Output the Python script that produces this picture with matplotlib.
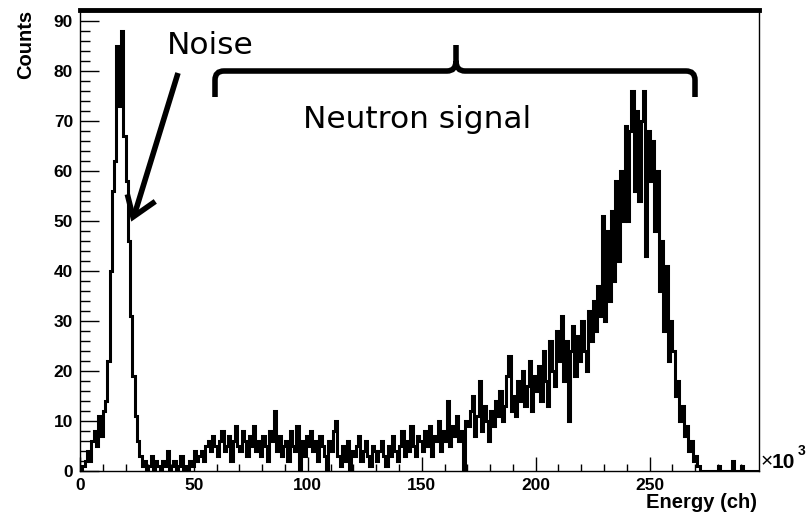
import numpy as np
import matplotlib
matplotlib.use('Agg')
import matplotlib.pyplot as plt
from matplotlib.path import Path
from matplotlib.patches import PathPatch
from matplotlib.ticker import MultipleLocator

# histogram counts, one bin per 1k channels (0 .. 300k)
counts = [
    0, 1, 2, 4, 2, 6, 8, 5, 11, 7,
    12, 14, 22, 40, 56, 62, 85, 73, 88, 67,
    58, 46, 31, 19, 11, 6, 3, 1, 2, 0,
    1, 3, 0, 2, 1, 0, 2, 1, 4, 0,
    1, 2, 0, 1, 3, 0, 1, 0, 2, 1,
    4, 2, 3, 4, 2, 5, 6, 4, 7, 5,
    3, 6, 8, 4, 5, 7, 2, 6, 9, 5,
    4, 8, 6, 3, 7, 5, 9, 4, 6, 3,
    7, 5, 2, 8, 6, 12, 4, 7, 3, 5,
    6, 2, 8, 5, 4, 9, 0, 6, 3, 7,
    5, 8, 4, 6, 2, 7, 5, 3, 0, 6,
    4, 8, 10, 3, 1, 5, 2, 6, 0, 4,
    3, 5, 7, 2, 4, 6, 3, 1, 5, 4,
    2, 4, 6, 3, 1, 5, 3, 7, 4, 2,
    5, 8, 3, 6, 4, 9, 5, 3, 7, 6,
    4, 8, 5, 9, 3, 7, 6, 10, 4, 8,
    6, 14, 5, 9, 7, 11, 6, 8, 0, 10,
    9, 12, 15, 7, 11, 18, 8, 13, 10, 6,
    12, 9, 14, 11, 16, 10, 13, 19, 23, 12,
    15, 11, 18, 14, 20, 13, 17, 22, 12, 19,
    16, 21, 14, 24, 18, 13, 26, 20, 17, 28,
    22, 31, 18, 26, 10, 24, 29, 19, 27, 22,
    30, 24, 20, 32, 26, 34, 28, 37, 31, 51,
    30, 48, 34, 52, 38, 58, 42, 60, 50, 69,
    50, 68, 76, 56, 72, 54, 70, 76, 43, 68,
    58, 66, 48, 60, 36, 46, 28, 41, 22, 30,
    24, 15, 18, 10, 13, 7, 9, 4, 6, 2,
    3, 1, 0, 0, 0, 0, 0, 0, 0, 0,
    1, 0, 0, 0, 0, 0, 2, 0, 0, 0,
    1, 0, 0, 0, 0, 0, 0, 0, 0, 0,
]
bin_width = 1.0  # in units of 10^3 channels
edges = np.arange(len(counts) + 1) * bin_width

x_ticks = [0, 50, 100, 150, 200, 250]
y_ticks = [0, 10, 20, 30, 40, 50, 60, 70, 80, 90]

W, H = 808, 520
fig = plt.figure(figsize=(W / 100, H / 100), dpi=100)
ax = fig.add_axes([80 / W, 1 - 471 / H, (759 - 80) / W, (471 - 10) / H])

ax.stairs(counts, edges, color='black', lw=2.2)

ax.set_xlim(0, 298)
ax.set_ylim(0, 92.2)
ax.set_xticks(x_ticks)
ax.set_yticks(y_ticks)
ax.xaxis.set_minor_locator(MultipleLocator(10))
ax.yaxis.set_minor_locator(MultipleLocator(2))

ax.tick_params(axis='x', which='major', direction='in', length=10, width=1, pad=5)
ax.tick_params(axis='x', which='minor', direction='in', length=5, width=1)
ax.tick_params(axis='y', which='major', direction='in', length=13.5, width=1, pad=5)
ax.tick_params(axis='y', which='minor', direction='in', length=7, width=1)
for lab in ax.get_xticklabels() + ax.get_yticklabels():
    lab.set_fontfamily('Liberation Sans')
    lab.set_fontweight('bold')
    lab.set_fontsize(12.5)

for side in ['left', 'bottom', 'right']:
    ax.spines[side].set_linewidth(1)
ax.spines['top'].set_linewidth(3.5)


def fx(px):
    return px / W


def fy(py):
    return 1 - py / H


# axis titles, ROOT style
fig.text(fx(26), fy(10), 'Counts', rotation=90, ha='center', va='top',
         fontfamily='Liberation Sans', fontweight='bold', fontsize=14.5)
fig.text(fx(757), fy(503), 'Energy (ch)', ha='right', va='center',
         fontfamily='Liberation Sans', fontweight='bold', fontsize=14.5)
fig.text(fx(761), fy(462), '\u00d7', ha='left', va='center',
         fontfamily='Liberation Sans', fontsize=15)
fig.text(fx(772), fy(462), '10', ha='left', va='center',
         fontfamily='Liberation Sans', fontweight='bold', fontsize=15)
fig.text(fx(798), fy(451), '3', ha='left', va='center',
         fontfamily='Liberation Sans', fontweight='bold', fontsize=10)

# annotations
fig.text(fx(167), fy(54), 'Noise', ha='left', va='baseline',
         fontfamily='DejaVu Sans', fontsize=22.5)
fig.text(fx(303), fy(128), 'Neutron signal', ha='left', va='baseline',
         fontfamily='DejaVu Sans', fontsize=22.5)

fig.add_artist(plt.Line2D([fx(178), fx(134)], [fy(73), fy(216)],
                          transform=fig.transFigure, color='black', lw=4,
                          solid_capstyle='butt'))
# open arrow head
fig.add_artist(plt.Line2D([fx(128), fx(133), fx(153)], [fy(197), fy(217), fy(203)],
                          transform=fig.transFigure, color='black', lw=4,
                          solid_joinstyle='miter'))

# curly brace over the neutron signal
by, ty, ey = 71, 45, 97
verts = [
    (215, ey), (215, by + 9), (215, by), (224, by),
    (447, by), (456, by), (456, by - 10), (456, ty),
    (456, by - 10), (456, by), (465, by),
    (686, by), (695, by), (695, by + 9), (695, ey),
]
codes = [Path.MOVETO, Path.LINETO, Path.CURVE3, Path.CURVE3,
         Path.LINETO, Path.CURVE3, Path.CURVE3, Path.LINETO,
         Path.MOVETO, Path.CURVE3, Path.CURVE3,
         Path.LINETO, Path.CURVE3, Path.CURVE3, Path.LINETO]
brace = Path([(fx(a), fy(b)) for a, b in verts], codes)
fig.add_artist(PathPatch(brace, transform=fig.transFigure, fill=False,
                         lw=4, edgecolor='black', capstyle='butt'))

fig.savefig('out.png', dpi=100)
